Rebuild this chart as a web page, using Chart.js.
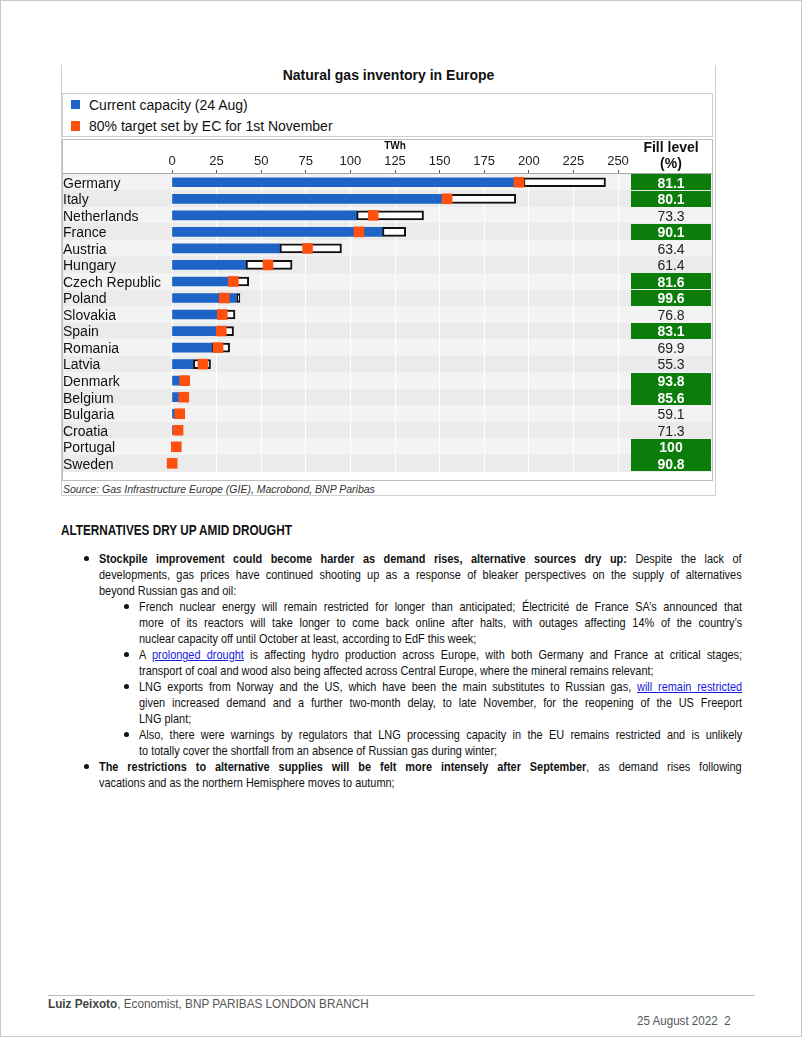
<!DOCTYPE html>
<html>
<head>
<meta charset="utf-8">
<script src="https://cdn.jsdelivr.net/npm/chart.js@4.4.0/dist/chart.umd.min.js"></script>
<style>
  body { margin: 0; background: #fff; }
  #page { position: relative; width: 800px; height: 1035px; border: 1px solid #c8c8c8; overflow: hidden;
          font-family: "Liberation Sans", Arial, sans-serif; color: #111; }
  .abs { position: absolute; }
  #frame { left: 60px; top: 64px; width: 653px; height: 430px; border: 1px solid #cfcfcf; border-top: none; }
  #title { left: 60px; top: 66px; width: 655px; text-align: center; font: bold 14px Arial, sans-serif; line-height: 16px; }
  #legend { left: 61px; top: 92px; width: 649px; height: 42px; border: 1px solid #cfcfcf; background: #fff;
            font: 14px Arial, sans-serif; }
  #legend .sq { position: absolute; left: 8px; width: 9px; height: 9px; }
  #legend .txt { position: absolute; left: 26px; line-height: 16px; }
  #plot { left: 61px; top: 138px; width: 649px; height: 340px; border: 1px solid #bdbdbd; }
  #source { left: 62px; top: 481px; font: italic 10.5px Arial, sans-serif; color: #333; line-height: 14px; }
  /* narrow text: Arial squeezed to Arial Narrow proportions */
  .nar { position: absolute; transform: scaleX(0.84); transform-origin: 0 0; white-space: nowrap; }
  #head { left: 60px; top: 521px; font-weight: bold; font-size: 14px; line-height: 16px; }
  .ln { font-size: 13px; line-height: 16px; }
  .j { text-align: justify; text-align-last: justify; }
  .l1 { left: 98px; width: 765px; }
  .l2 { left: 138px; width: 718px; }
  .dot { position: absolute; width: 5px; height: 5px; border-radius: 50%; background: #111; }
  a { color: #1a1adf; text-decoration: underline; }
  #foot { left: 47px; top: 994px; width: 707px; border-top: 1px solid #bbb; }
  #author { left: 47px; top: 996px; font-size: 13.5px; color: #555; line-height: 14px; transform: scaleX(0.87); }
  #date { left: 636px; top: 1013px; font-size: 13.5px; color: #555; line-height: 14px; transform: scaleX(0.86); }
</style>
</head>
<body>
<div id="page">
  <div id="frame" class="abs"></div>
  <div id="title" class="abs">Natural gas inventory in Europe</div>
  <div id="legend" class="abs">
    <div class="sq" style="top:6px;background:#1f63c6"></div><div class="txt" style="top:3px">Current capacity (24 Aug)</div>
    <div class="sq" style="top:27px;height:10px;background:#ff5010"></div><div class="txt" style="top:24px">80% target set by EC for 1st November</div>
  </div>
  <div id="plot" class="abs"><canvas id="gas" width="649" height="340"></canvas></div>
  <div id="source" class="abs">Source: Gas Infrastructure Europe (GIE), Macrobond, BNP Paribas</div>

  <div id="head" class="nar">ALTERNATIVES DRY UP AMID DROUGHT</div>

  <div class="dot" style="left:83px;top:555px"></div>
  <div class="nar ln l1 j" style="top:550px"><b>Stockpile improvement could become harder as demand rises, alternative sources dry up:</b> Despite the lack of</div>
  <div class="nar ln l1 j" style="top:566px">developments, gas prices have continued shooting up as a response of bleaker perspectives on the supply of alternatives</div>
  <div class="nar ln l1" style="top:582px">beyond Russian gas and oil:</div>

  <div class="dot" style="left:123px;top:603px"></div>
  <div class="nar ln l2 j" style="top:598px">French nuclear energy will remain restricted for longer than anticipated; Électricité de France SA’s announced that</div>
  <div class="nar ln l2 j" style="top:614px">more of its reactors will take longer to come back online after halts, with outages affecting 14% of the country’s</div>
  <div class="nar ln l2" style="top:630px">nuclear capacity off until October at least, according to EdF this week;</div>

  <div class="dot" style="left:123px;top:651px"></div>
  <div class="nar ln l2 j" style="top:646px">A <a>prolonged drought</a> is affecting hydro production across Europe, with both Germany and France at critical stages;</div>
  <div class="nar ln l2" style="top:662px">transport of coal and wood also being affected across Central Europe, where the mineral remains relevant;</div>

  <div class="dot" style="left:123px;top:683px"></div>
  <div class="nar ln l2 j" style="top:678px">LNG exports from Norway and the US, which have been the main substitutes to Russian gas, <a>will remain restricted</a></div>
  <div class="nar ln l2 j" style="top:694px">given increased demand and a further two-month delay, to late November, for the reopening of the US Freeport</div>
  <div class="nar ln l2" style="top:710px">LNG plant;</div>

  <div class="dot" style="left:123px;top:731px"></div>
  <div class="nar ln l2 j" style="top:726px">Also, there were warnings by regulators that LNG processing capacity in the EU remains restricted and is unlikely</div>
  <div class="nar ln l2" style="top:742px">to totally cover the shortfall from an absence of Russian gas during winter;</div>

  <div class="dot" style="left:83px;top:763px"></div>
  <div class="nar ln l1 j" style="top:758px"><b>The restrictions to alternative supplies will be felt more intensely after September</b>, as demand rises following</div>
  <div class="nar ln l1" style="top:774px">vacations and as the northern Hemisphere moves to autumn;</div>

  <div id="foot" class="abs"></div>
  <div id="author" class="nar"><b style="color:#444">Luiz Peixoto</b>, Economist, BNP PARIBAS LONDON BRANCH</div>
  <div id="date" class="nar">25 August 2022&nbsp;&nbsp;2</div>
</div>

<script>
// countries in chart order (top to bottom)
var countries = ["Germany", "Italy", "Netherlands", "France", "Austria", "Hungary", "Czech Republic", "Poland",
  "Slovakia", "Spain", "Romania", "Latvia", "Denmark", "Belgium", "Bulgaria", "Croatia", "Portugal", "Sweden"];

// TWh
var current  = [197, 154.5, 103.5, 118, 60.5, 41.5, 35.1, 36.4, 27.1, 28.7, 22.6, 12, 8.3, 7.0, 3.2, 3.0, 3.0, 0.1];
var capacity = [243, 192.7, 141, 131, 95, 67.3, 43, 36.6, 35.3, 34.5, 32.3, 21.6, 8.9, 8.2, 5.4, 4.2, 3.0, 0.1];
var target   = [194.5, 154.2, 112.8, 104.8, 76, 53.8, 34.4, 29.3, 28.2, 27.6, 25.8, 17.3, 7.1, 6.6, 4.3, 3.4, 2.4, 0.1];

// fill level column (%)
var fillLevel = [81.1, 80.1, 73.3, 90.1, 63.4, 61.4, 81.6, 99.6, 76.8, 83.1, 69.9, 55.3, 93.8, 85.6, 59.1, 71.3, 100, 90.8];
var fillLabels = ["81.1", "80.1", "73.3", "90.1", "63.4", "61.4", "81.6", "99.6", "76.8", "83.1", "69.9", "55.3",
  "93.8", "85.6", "59.1", "71.3", "100", "90.8"];

var xTicks = [0, 25, 50, 75, 100, 125, 150, 175, 200, 225, 250];

var blue = "#1f63c6";
var orange = "#ff5010";
var green = "#0a7d0a";

// alternating row bands + the fill level column on the right
var rowsPlugin = {
  id: "rows",
  beforeDraw: function(chart) {
    var ctx = chart.ctx, y = chart.scales.y;
    countries.forEach(function(c, i) {
      var yc = y.getPixelForValue(i);
      ctx.fillStyle = i % 2 ? "#ebebeb" : "#f3f3f3";
      ctx.fillRect(0, Math.round(yc - 8.5), chart.width, 17);
    });
  },
  afterDraw: function(chart) {
    var ctx = chart.ctx, y = chart.scales.y, area = chart.chartArea;
    ctx.save();
    // line under the axis labels
    ctx.strokeStyle = "#a8a8a8";
    ctx.lineWidth = 1;
    ctx.beginPath();
    ctx.moveTo(0, area.top - 0.5);
    ctx.lineTo(chart.width, area.top - 0.5);
    ctx.stroke();

    var colL = 568, colW = 80, cx = colL + colW / 2;
    ctx.textAlign = "center";
    ctx.textBaseline = "middle";
    ctx.fillStyle = "#111";
    ctx.font = "bold 14px Arial";
    ctx.fillText("Fill level", cx, 8);
    ctx.fillText("(%)", cx, 24);

    fillLevel.forEach(function(v, i) {
      var yc = y.getPixelForValue(i);
      if (v >= 80) {
        ctx.fillStyle = green;
        ctx.fillRect(colL, Math.round(yc - 8), colW, 16);
        ctx.fillStyle = "#fff";
        ctx.font = "bold 14px Arial";
      } else {
        ctx.fillStyle = "#222";
        ctx.font = "14px Arial";
      }
      ctx.fillText(fillLabels[i], cx, yc + 1.5);
    });
    ctx.restore();
  }
};

new Chart(document.getElementById("gas"), {
  type: "bar",
  data: {
    labels: countries,
    datasets: [
      {
        label: "80% target set by EC for 1st November",
        type: "line",
        indexAxis: "y",
        data: target,
        showLine: false,
        pointStyle: "rect",
        pointRadius: 7.5,
        pointHoverRadius: 7.5,
        pointBackgroundColor: orange,
        pointBorderWidth: 0,
        borderWidth: 0,
        clip: false,
        order: 0
      },
      {
        label: "Storage capacity",
        data: capacity.map(function(c, i) { return [current[i], c]; }),
        backgroundColor: "#fff",
        borderColor: "#111",
        borderWidth: 2,
        borderSkipped: false,
        barThickness: 9,
        minBarLength: 3,
        grouped: false,
        order: 1
      },
      {
        label: "Current capacity (24 Aug)",
        data: current,
        backgroundColor: blue,
        barThickness: 9,
        grouped: false,
        order: 2
      }
    ]
  },
  options: {
    indexAxis: "y",
    responsive: false,
    animation: false,
    events: [],
    layout: { padding: { left: 0, right: 94, top: 0, bottom: 0 } },
    plugins: { legend: { display: false }, tooltip: { enabled: false } },
    scales: {
      x: {
        position: "top",
        min: 0,
        max: 250,
        afterBuildTicks: function(s) { s.ticks = xTicks.map(function(v) { return { value: v }; }); },
        ticks: { font: { family: "Arial", size: 13 }, color: "#222", padding: 1, maxRotation: 0 },
        grid: { color: "#fff", lineWidth: 1, tickLength: 4, tickColor: "#555" },
        border: { display: false },
        title: { display: true, text: "TWh", font: { family: "Arial", size: 10, weight: "bold" }, color: "#111", padding: 0 },
        afterFit: function(s) { s.height = 34; }
      },
      y: {
        ticks: { font: { family: "Arial", size: 14 }, color: "#111", crossAlign: "far", padding: 0, autoSkip: false, labelOffset: 1.5 },
        grid: { display: false },
        border: { display: false },
        afterFit: function(s) { s.width = 109; }
      }
    }
  },
  plugins: [rowsPlugin]
});
</script>
</body>
</html>
